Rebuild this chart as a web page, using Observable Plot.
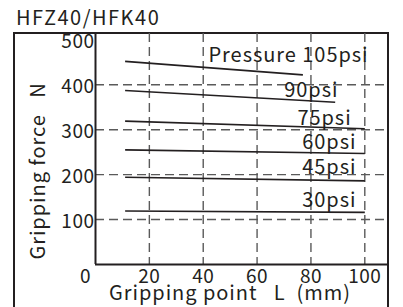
<!DOCTYPE html>
<html><head><meta charset="utf-8">
<script src="https://cdn.jsdelivr.net/npm/d3@7"></script>
<script src="https://cdn.jsdelivr.net/npm/@observablehq/plot@0.6"></script>
<style>
body{margin:0;background:#fff;width:403px;height:307px;overflow:hidden;position:relative;font-family:"Noto Sans CJK JP",sans-serif;color:#231f20}
#title{position:absolute;left:16px;top:5px;font-size:20px;line-height:24px;letter-spacing:1.5px}
#box{position:absolute;left:13px;top:32px;width:376px;height:300px;border:2px solid #231f20;box-sizing:border-box}
#chart{position:absolute;left:0;top:33px}
#chart g[aria-label="text"] text{letter-spacing:0.95px}
#chart g[aria-label="x-axis tick label"] text,#chart g[aria-label="y-axis tick label"] text{letter-spacing:0.5px}
</style></head><body>
<div id="title">HFZ40/HFK40</div>
<div id="box"></div>
<div id="chart"></div>
<script>
const title = "HFZ40/HFK40";
const pressures = ["Pressure 105psi", "90psi", "75psi", "60psi", "45psi", "30psi"];
const startL = [11, 11, 11, 11, 11, 11];
const endL = [77, 89, 100, 100, 100, 100];
const startForce = [452, 387, 319, 255, 194, 119];
const endForce = [422, 361, 302, 247, 186, 116];
const labelL = [101.4, 90.2, 95.1, 96.9, 96.9, 96.9];
const labelForce = [465, 387, 324, 271, 215, 143];
const xTicks = [20, 40, 60, 80, 100];
const yTicks = [100, 200, 300, 400, 500];
const yGrid = [100, 200, 300, 400];
const xLabel = "Gripping point\u2002 L\u2002(mm)";
const yLabel = "Gripping force\u2002 N";

document.getElementById("title").textContent = title;
const rows = pressures.map((p, i) => ({p, x1: startL[i], x2: endL[i], y1: startForce[i], y2: endForce[i], lx: labelL[i], ly: labelForce[i]}));
const ink = "#231f20";
const font = "'Noto Sans CJK JP',sans-serif";
const fs = 20;
const tfs = 19;

const chart = Plot.plot({
  width: 403, height: 274,
  marginLeft: 95, marginRight: 15, marginTop: 0, marginBottom: 43,
  style: {fontFamily: font, color: ink, background: "transparent", overflow: "visible"},
  x: {domain: [0, 108.8]},
  y: {domain: [0, 514]},
  marks: [
    Plot.ruleX(xTicks, {stroke: "#5a5a5a", strokeWidth: 1.4, strokeDasharray: "9,5"}),
    Plot.ruleY(yGrid, {stroke: "#5a5a5a", strokeWidth: 1.4, strokeDasharray: "9,5"}),
    Plot.link(rows, {x1: "x1", y1: "y1", x2: "x2", y2: "y2", stroke: ink, strokeWidth: 1.6}),
    Plot.text(rows, {x: "lx", y: "ly", text: "p", textAnchor: "end", fontSize: fs, fill: ink, fontFamily: font}),
    Plot.ruleX([0], {stroke: ink, strokeWidth: 2}),
    Plot.ruleY([0], {stroke: ink, strokeWidth: 2}),
    Plot.axisY({ticks: yTicks, tickSize: 0, tickPadding: 1, label: null, fontSize: tfs, dy: 2, fill: ink}),
    Plot.axisX({ticks: xTicks, tickSize: 0, tickPadding: 5, label: null, fontSize: tfs, fill: ink}),
    Plot.axisX({ticks: [0], tickSize: 0, tickPadding: 5, label: null, fontSize: tfs, dx: -10, fill: ink}),
    Plot.text([yLabel], {frameAnchor: "left", rotate: -90, dx: -57, dy: 22, fontSize: fs, fill: ink, textAnchor: "middle"}),
    Plot.text([xLabel], {frameAnchor: "bottom", dx: -12, dy: 35.5, fontSize: fs, fill: ink, textAnchor: "middle"})
  ]
});
document.getElementById("chart").appendChild(chart);
</script>
</body></html>
